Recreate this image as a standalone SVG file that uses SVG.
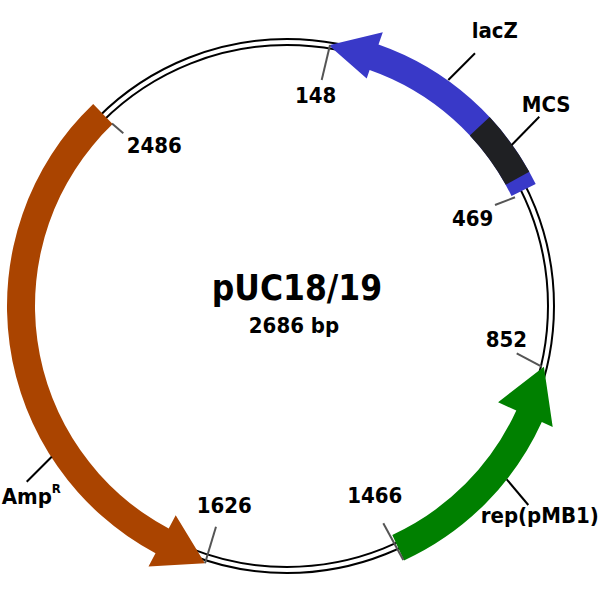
<svg xmlns="http://www.w3.org/2000/svg" width="600" height="600" viewBox="0 0 600 600">
<style>
text{font-family:"DejaVu Sans Condensed","DejaVu Sans",sans-serif;font-weight:bold;fill:#000;font-stretch:condensed}
.lbl{font-size:22px}
.bb{fill:none;stroke:#000;stroke-width:2}
.tick{stroke:#555;stroke-width:2}
.lead{stroke:#000;stroke-width:2}
</style>
<rect width="600" height="600" fill="#fff"/>
<g id="backbone">
<circle class="bb" cx="287" cy="306" r="267"/>
<circle class="bb" cx="287" cy="306" r="261"/>
</g>
<g id="lacZ">
<path d="M535.7,184.1 A277 277 0 0 0 378.5,44.6 L382.8,32.3 L328.8,45.3 L366.7,78.5 L369.6,70 A250 250 0 0 1 511.5,196 Z" fill="#3939c8"/>
</g>
<g id="MCS">
<path d="M529.3,171.7 A277 277 0 0 0 489.6,117.1 L469.8,135.5 A250 250 0 0 1 505.7,184.8 Z" fill="#1f2023"/>
</g>
<g id="AmpR">
<path d="M93.2,103.9 A280 280 0 0 0 155.5,553.2 L148.5,566.5 L204.9,563.2 L175.7,515.2 L168.7,528.5 A252 252 0 0 1 112.6,124.1 Z" fill="#aa4400"/>
</g>
<g id="rep">
<path d="M404,560.4 A280 280 0 0 0 541.8,422.1 L552.7,427.1 L543.9,366.7 L498.1,402.2 L516.3,410.5 A252 252 0 0 1 392.3,534.9 Z" fill="#008000"/>
</g>
<g id="connectors">
<line class="tick" x1="330" y1="45" x2="321.7" y2="80"/>
<line class="tick" x1="515" y1="197.3" x2="495" y2="205"/>
<line class="tick" x1="541.7" y1="366.7" x2="516.7" y2="353.3"/>
<line class="tick" x1="383.3" y1="523.3" x2="403.3" y2="560"/>
<line class="tick" x1="205" y1="563.3" x2="216" y2="526.7"/>
<line class="tick" x1="112" y1="123.5" x2="123.3" y2="133.3"/>
<line class="lead" x1="448.3" y1="80" x2="475" y2="53.3"/>
<line class="lead" x1="511.7" y1="145" x2="539.3" y2="116.7"/>
<line class="lead" x1="506.7" y1="479.3" x2="528.3" y2="505"/>
<line class="lead" x1="51.7" y1="456.7" x2="26.7" y2="481.7"/>
</g>
<g id="labels">
<text class="lbl" x="295" y="102.7">148</text>
<text class="lbl" x="452" y="226">469</text>
<text class="lbl" x="126.7" y="152.7">2486</text>
<text class="lbl" x="485.7" y="347">852</text>
<text class="lbl" x="347.3" y="502.7">1466</text>
<text class="lbl" x="196.7" y="512.7">1626</text>
<text class="lbl" x="471.7" y="38.3">lacZ</text>
<text class="lbl" x="521.7" y="111.7">MCS</text>
<text class="lbl" x="480.7" y="523">rep(pMB1)</text>
<text class="lbl" x="1.7" y="504">Amp<tspan font-size="13" dy="-11">R</tspan></text>
</g>
<g id="title">
<text x="297" y="300" font-size="35" text-anchor="middle">pUC18/19</text>
<text x="294" y="333.3" font-size="22" text-anchor="middle">2686 bp</text>
</g>
</svg>
